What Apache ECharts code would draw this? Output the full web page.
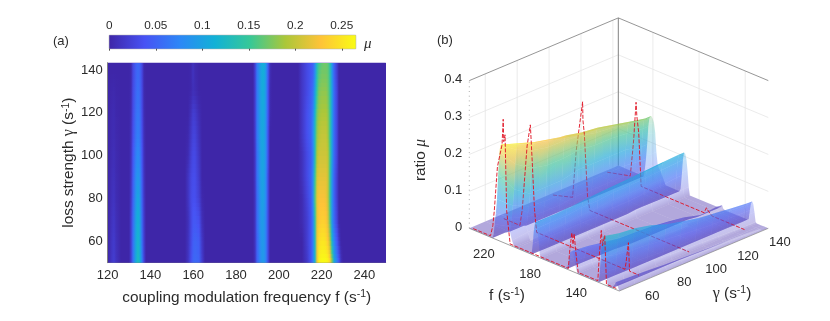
<!DOCTYPE html>
<html>
<head>
<meta charset="UTF-8">
<title>chart</title>
<script src="https://cdn.jsdelivr.net/npm/echarts@6/dist/echarts.min.js"></script>
<style type="text/css">
html, body {
	width: 100%;
	height: 100%;
	padding: 0px;
	margin: 0px;
	background: #fff;
}
</style>
</head>
<body>
	<div id="chart" style="width: 830px; height: 321px;"></div>

	<script type="text/javascript">
        // f columns of the measured map (dense only where the peaks are)
        var fCols = [120,122,123,124,126, 130,131,132,133,134,135,136,137,138, 156,157.5,159,160,161,162.5,164,165.5, 188,189,190,191,192,193,194,195,196,197, 209,211,213,215,216,217,218,219,220,221,222,223,224,225,226,227,228,229,230, 250];
        var gammaRows = [50,60,70,80,90,100,110,120,130,140,143.4];

        // ratio mu along f, one list per gamma
        var mu50 = [0,.016,.02,.012,0, 0,.02,.06,.11,.13,.115,.07,.025,0, 0,.012,.035,.05,.055,.05,.02,0, 0,.01,.05,.075,.09,.09,.07,.03,0,0, 0,0,.015,.04,.07,.12,.22,.26,.265,.265,.265,.26,.24,.18,.11,.07,.04,.01,0, 0];
        var mu60 = [0,.014,.018,.01,0, 0,.02,.06,.105,.12,.105,.06,.02,0, 0,.01,.03,.045,.05,.045,.015,0, 0,.012,.05,.08,.092,.09,.07,.03,0,0, 0,0,.02,.04,.07,.13,.22,.245,.25,.25,.245,.23,.19,.12,.075,.04,.015,0,0, 0];
        var mu70 = [0,.012,.015,.008,0, 0,.02,.055,.1,.115,.1,.055,.018,0, 0,.008,.028,.04,.042,.035,.008,0, 0,.012,.055,.085,.095,.09,.07,.03,0,0, 0,.005,.02,.04,.07,.14,.215,.23,.235,.235,.23,.21,.16,.09,.055,.025,0,0,0, 0];
        var mu80 = [0,.01,.012,.006,0, 0,.015,.05,.09,.105,.09,.05,.015,0, 0,.012,.03,.035,.035,.022,.003,0, 0,.012,.055,.085,.098,.095,.075,.03,0,0, 0,.005,.025,.045,.08,.16,.215,.225,.225,.225,.22,.2,.15,.09,.05,.02,0,0,0, 0];
        var mu90 = [0,.008,.01,.005,0, 0,.012,.045,.08,.09,.08,.045,.012,0, 0,.012,.028,.033,.033,.018,0,0, 0,.015,.06,.09,.1,.098,.075,.03,0,0, 0,.01,.03,.05,.08,.15,.205,.215,.215,.215,.215,.2,.15,.09,.05,.02,0,0,0, 0];
        var mu100 = [0,.006,.008,.004,0, 0,.01,.04,.07,.08,.07,.04,.01,0, 0,.005,.022,.03,.03,.014,0,0, 0,.015,.06,.09,.102,.1,.08,.035,0,0, 0,.01,.03,.045,.07,.13,.19,.205,.205,.205,.205,.195,.155,.1,.055,.025,0,0,0, 0];
        var mu110 = [0,.005,.006,.003,0, 0,.008,.035,.062,.07,.062,.035,.008,0, 0,.002,.016,.025,.025,.01,0,0, 0,.018,.065,.095,.105,.102,.08,.035,0,0, 0,.015,.035,.05,.08,.13,.18,.195,.2,.2,.2,.185,.15,.1,.055,.025,0,0,0, 0];
        var mu120 = [0,.004,.005,.002,0, 0,.006,.032,.058,.065,.058,.032,.006,0, 0,0,.01,.02,.018,.006,0,0, 0,.02,.065,.095,.105,.105,.082,.04,.005,0, 0,.015,.035,.05,.07,.12,.17,.185,.19,.19,.19,.18,.15,.1,.055,.025,0,0,0, 0];
        var mu130 = [0,.002,.003,.001,0, 0,.004,.03,.052,.06,.052,.03,.004,0, 0,0,.002,.008,.006,0,0,0, 0,.02,.065,.095,.108,.108,.085,.04,.005,0, 0,.015,.03,.045,.06,.1,.15,.175,.18,.18,.18,.17,.145,.1,.055,.025,0,0,0, 0];
        var mu140 = [0,0,0,0,0, 0,.003,.028,.048,.055,.048,.028,.003,0, 0,0,.002,.012,.004,0,0,0, 0,.022,.065,.095,.108,.11,.088,.045,.008,0, 0,.015,.03,.04,.05,.08,.135,.16,.17,.17,.17,.165,.14,.09,.05,.02,0,0,0, 0];
        var mu143 = [0,0,0,0,0, 0,.003,.028,.048,.054,.048,.028,.003,0, 0,0,.002,.01,.004,0,0,0, 0,.022,.065,.095,.108,.11,.09,.045,.008,0, 0,.015,.03,.04,.05,.08,.13,.155,.165,.17,.17,.165,.14,.09,.05,.02,0,0,0, 0];
        var muRows = [mu50,mu60,mu70,mu80,mu90,mu100,mu110,mu120,mu130,mu140,mu143];

        // red dashed cuts of panel (b), each at one gamma
        var cutGammas = [51,68,101,135];
        var cut51F = [248,233,231,229.7,227,223,222,221.5,220.4,219,216,165.5,164.5,162.5,161.5,160.5,159,157,140,138.5,137,136,134,132.5,124];
        var cut51Mu = [0,0,.03,.073,.195,.26,.33,.27,.29,.087,0,0,.045,.1,.07,.1,.05,0,0,.08,.14,.1,.13,0,0];
        var cut68F = [245,231,229,224.8,222,221,218.4,216.5,140,139,137,136,128];
        var cut68Mu = [0,0,.045,.223,.284,.227,.06,0,0,.02,.076,0,0];
        var cut101F = [248,231,227.8,222.3,222,220.8,218,216,130];
        var cut101Mu = [0,.016,.148,.286,.236,.2,.034,0,0];
        var cut135F = [248,228,225.3,223,222.3,220.7,218.6,164,162,160,157,129];
        var cut135Mu = [0,.016,.108,.222,.185,.143,0,0,.016,.008,0,0];
        var cutFs = [cut51F,cut68F,cut101F,cut135F];
        var cutMus = [cut51Mu,cut68Mu,cut101Mu,cut135Mu];

        // tick labels
        var heatFTicks = [120,140,160,180,200,220,240];
        var heatGammaTicks = [60,80,100,120,140];
        var boxFTicks = [140,180,220];
        var boxGammaTicks = [60,80,100,120,140];
        var boxMuTicks = [0,0.1,0.2,0.3,0.4];
        var parula = ['#3e26a8','#4752f4','#2d87f7','#12b1d6','#37c897','#abc739','#fec338','#f9fb15'];

        var fontName = 'Liberation Sans';
        var textColor = '#2b2b2b';
        var muMax = 0.265;
        var fMin = 120, fMax = 250, gMin = 50, gMax = 143.4, boxMuMax = 0.4;

        function muColor(v) {
            return echarts.color.lerp(Math.min(v / muMax, 1), parula);
        }

        // panel (a): one data item per cell of the map, shaded across the cell
        var heatCells = [];
        for (var i = 0; i < gammaRows.length - 1; i++) {
            for (var j = 0; j < fCols.length - 1; j++) heatCells.push([i, j]);
        }
        function renderHeatCell(params, api) {
            var i = api.value(0), j = api.value(1), kids = [], n = 5;
            for (var s = 0; s < n; s++) {
                var t = (s + 0.5) / n;
                var g0 = gammaRows[i] + (gammaRows[i + 1] - gammaRows[i]) * s / n;
                var g1 = gammaRows[i] + (gammaRows[i + 1] - gammaRows[i]) * (s + 1) / n;
                var p0 = api.coord([fCols[j], g0]), p1 = api.coord([fCols[j + 1], g1]);
                var a = muRows[i][j] * (1 - t) + muRows[i + 1][j] * t;
                var b = muRows[i][j + 1] * (1 - t) + muRows[i + 1][j + 1] * t;
                var x0 = Math.round(p0[0]), x1 = Math.round(p1[0]), y0 = Math.round(p1[1]), y1 = Math.round(p0[1]);
                if (x1 <= x0 || y1 <= y0) continue;
                kids.push({
                    type: 'rect',
                    shape: { x: x0, y: y0, width: x1 - x0, height: y1 - y0 },
                    style: { fill: new echarts.graphic.LinearGradient(0, 0, 1, 0, [
                        { offset: 0, color: muColor(a) }, { offset: 1, color: muColor(b) }
                    ]) }
                });
            }
            return { type: 'group', children: kids };
        }

        // panel (b): parallel projection of the box onto its own hidden axes
        var boxFloorRun = 150, boxFloorRunR = 149, boxFloorRise = 62.7, boxHeight = 147.7;
        function project(f, g, mu) {
            var u = (f - fMin) / (fMax - fMin), v = (g - gMin) / (gMax - gMin);
            return [boxFloorRun * (1 - u) + boxFloorRunR * v, boxFloorRise * (u + v) + boxHeight * mu / boxMuMax];
        }
        // the far slope of a ridge keeps its colour, the near slope is a pale veil in front of it
        function farShade(v) {
            if (v === 0) return echarts.color.modifyAlpha(parula[0], 0.4);
            return echarts.color.modifyAlpha(muColor(v), 0.4 + Math.min(0.16, v * 2));
        }
        function nearShade(v) {
            if (v === 0) return echarts.color.modifyAlpha(parula[0], 0.4);
            var c = echarts.color.lerp(0.2, [muColor(v), '#a4a6f4']);
            return echarts.color.modifyAlpha(c, 0.33);
        }

        // painted from the far corner to the near one
        var boxItems = [];
        boxItems.push({ kind: 'walls' });
        for (var r = gammaRows.length - 2; r >= 0; r--) {
            for (var c = fCols.length - 2; c >= 0; c--) boxItems.push({ kind: 'quad', r: r, c: c });
            for (var k = cutGammas.length - 1; k >= 0; k--) {
                if (cutGammas[k] >= gammaRows[r] && cutGammas[k] < gammaRows[r + 1]) boxItems.push({ kind: 'cut', k: k });
            }
        }
        boxItems.push({ kind: 'edges' });
        boxItems.push({ kind: 'labels' });

        function segment(a, b, color, width, dash) {
            return {
                type: 'line',
                shape: { x1: a[0], y1: a[1], x2: b[0], y2: b[1] },
                style: { stroke: color, lineWidth: width, lineDash: dash || null }
            };
        }
        function labelAt(p, text, dx, dy, align) {
            return {
                type: 'text',
                x: p[0] + dx, y: p[1] + dy,
                style: { text: text, fill: textColor, fontFamily: fontName, fontSize: 13, align: align || 'center', verticalAlign: 'middle' }
            };
        }

        function renderBoxItem(params, api) {
            var it = boxItems[params.dataIndex], kids = [];
            function pt(f, g, m) {
                return api.coord(project(f, g, m));
            }
            if (it.kind === 'quad') {
                var g0 = gammaRows[it.r], g1 = gammaRows[it.r + 1], f0 = fCols[it.c], f1 = fCols[it.c + 1];
                var a0 = muRows[it.r][it.c], a1 = muRows[it.r + 1][it.c], b0 = muRows[it.r][it.c + 1], b1 = muRows[it.r + 1][it.c + 1];
                var pa0 = pt(f0, g0, a0), pa1 = pt(f0, g1, a1), pb0 = pt(f1, g0, b0), pb1 = pt(f1, g1, b1);
                var ca = (a0 + a1) / 2, cb = (b0 + b1) / 2;
                var shade = cb > ca ? nearShade : farShade;
                var fill = shade(ca);
                var mx = (pa0[0] + pa1[0]) / 2, my = (pa0[1] + pa1[1]) / 2;
                var ex = pa1[0] - pa0[0], ey = pa1[1] - pa0[1], len = Math.sqrt(ex * ex + ey * ey) || 1;
                var nx = -ey / len, ny = ex / len;
                var dist = ((pb0[0] + pb1[0]) / 2 - mx) * nx + ((pb0[1] + pb1[1]) / 2 - my) * ny;
                if (ca !== cb && Math.abs(dist) > 0.01) {
                    fill = {
                        type: 'linear', global: true,
                        x: mx, y: my, x2: mx + nx * dist, y2: my + ny * dist,
                        colorStops: [{ offset: 0, color: shade(ca) }, { offset: 1, color: shade(cb) }]
                    };
                }
                return { type: 'polygon', shape: { points: [pa0, pb0, pb1, pa1] }, style: { fill: fill } };
            }
            if (it.kind === 'cut') {
                var pts = [], fs = cutFs[it.k], ms = cutMus[it.k];
                for (var q = 0; q < fs.length; q++) pts.push(pt(fs[q], cutGammas[it.k], ms[q]));
                return {
                    type: 'polyline',
                    shape: { points: pts },
                    style: { stroke: '#e01020', lineWidth: 1, lineDash: [4, 1.6], fill: null, opacity: 0.9 }
                };
            }
            if (it.kind === 'walls') {
                var gridColor = '#e6e6e6', edgeColor = '#8a8a8a';
                boxMuTicks.forEach(function (m) {
                    if (m === 0 || m === boxMuMax) return;
                    kids.push(segment(pt(fMax, gMin, m), pt(fMax, gMax, m), gridColor, 0.8));
                    kids.push(segment(pt(fMax, gMax, m), pt(fMin, gMax, m), gridColor, 0.8));
                });
                boxGammaTicks.forEach(function (g) {
                    kids.push(segment(pt(fMax, g, 0), pt(fMax, g, boxMuMax), gridColor, 0.8));
                });
                boxFTicks.forEach(function (f) {
                    kids.push(segment(pt(f, gMax, 0), pt(f, gMax, boxMuMax), gridColor, 0.8));
                });
                kids.push(segment(pt(fMax, gMin, boxMuMax), pt(fMax, gMax, boxMuMax), edgeColor, 0.9));
                kids.push(segment(pt(fMax, gMax, boxMuMax), pt(fMin, gMax, boxMuMax), edgeColor, 0.9));
                kids.push(segment(pt(fMax, gMax, 0), pt(fMax, gMax, boxMuMax), '#808080', 1));
                kids.push(segment(pt(fMax, gMin, 0), pt(fMax, gMin, boxMuMax), '#9a9a9a', 0.8, [1, 3.7]));
            }
            if (it.kind === 'edges') {
                kids.push(segment(pt(fMax, gMin, 0), pt(fMin, gMin, 0), '#777', 0.7));
                kids.push(segment(pt(fMin, gMin, 0), pt(fMin, gMax, 0), '#888', 0.7));
            }
            if (it.kind === 'labels') {
                boxFTicks.forEach(function (f) {
                    kids.push(labelAt(pt(f, gMin, 0), String(f), -20, 12));
                });
                boxGammaTicks.forEach(function (g) {
                    kids.push(labelAt(pt(fMin, g, 0), String(g), 17, 12));
                });
                boxMuTicks.forEach(function (m) {
                    kids.push(labelAt(pt(fMax, gMin, m), String(m), -7, -1, 'right'));
                });
            }
            return { type: 'group', children: kids };
        }

        var supRich = {
            sup: { fontFamily: fontName, fontSize: 10.5, padding: [0, 0, 7, 0], color: textColor },
            gam: { fontFamily: 'Liberation Serif', fontSize: 16, color: textColor },
            muSym: { fontFamily: 'Liberation Serif', fontStyle: 'italic', fontSize: 16, color: textColor }
        };

        var option = {
            animation: false,
            backgroundColor: '#fff',
            textStyle: { fontFamily: fontName, color: textColor },
            grid: [
                { left: 107.7, top: 62.7, width: 278, height: 200, show: true, backgroundColor: parula[0], borderWidth: 0 },
                { left: 109.3, top: 35.3, width: 246.4, height: 13.4, show: true, borderColor: '#a0a0a0', borderWidth: 1 },
                { left: 469.3, top: 17.3, width: 299, height: 273.7 }
            ],
            xAxis: [
                {
                    gridIndex: 0, type: 'value', min: fMin, max: fMax, splitLine: { show: false },
                    axisLine: { show: true, lineStyle: { color: '#808080' } }, axisTick: { show: false },
                    axisLabel: { customValues: heatFTicks, color: textColor, fontSize: 13, fontFamily: fontName, margin: 6 },
                    name: 'coupling modulation frequency f (s{sup|-1})',
                    nameLocation: 'middle', nameGap: 26,
                    nameTextStyle: { color: textColor, fontSize: 15.4, fontFamily: fontName, rich: supRich }
                },
                {
                    gridIndex: 1, type: 'value', position: 'top', min: 0, max: muMax, interval: 0.05,
                    splitLine: { show: false }, axisLine: { show: false },
                    axisTick: { inside: true, length: 2, lineStyle: { color: '#555' } },
                    axisLabel: { color: textColor, fontSize: 11.8, fontFamily: fontName, margin: 4, showMaxLabel: false },
                    z: 5
                },
                { gridIndex: 2, type: 'value', min: 0, max: 299, show: false }
            ],
            yAxis: [
                {
                    gridIndex: 0, type: 'value', min: gMin, max: gMax, splitLine: { show: false },
                    axisLine: { show: true, lineStyle: { color: '#808080' } }, axisTick: { show: false },
                    axisLabel: { customValues: heatGammaTicks, color: textColor, fontSize: 13, fontFamily: fontName, margin: 5 },
                    name: 'loss strength {gam|\u03b3} (s{sup|-1})',
                    nameLocation: 'middle', nameGap: 28,
                    nameTextStyle: { color: textColor, fontSize: 15.4, fontFamily: fontName, rich: supRich }
                },
                { gridIndex: 1, type: 'value', min: 0, max: 1, show: false },
                { gridIndex: 2, type: 'value', min: 0, max: 273.7, show: false }
            ],
            series: [
                { type: 'custom', xAxisIndex: 0, yAxisIndex: 0, data: heatCells, renderItem: renderHeatCell, silent: true, clip: true },
                {
                    type: 'custom', xAxisIndex: 1, yAxisIndex: 1, data: [[0, muMax]], silent: true, z: 1,
                    renderItem: function (params, api) {
                        var a = api.coord([api.value(0), 1]), b = api.coord([api.value(1), 0]);
                        var stops = parula.map(function (col, n) { return { offset: n / (parula.length - 1), color: col }; });
                        return {
                            type: 'rect',
                            shape: { x: a[0], y: a[1], width: b[0] - a[0], height: b[1] - a[1] },
                            style: { fill: new echarts.graphic.LinearGradient(0, 0, 1, 0, stops) }
                        };
                    }
                },
                {
                    type: 'custom', xAxisIndex: 2, yAxisIndex: 2, silent: true, progressive: 0, clip: false,
                    data: boxItems.map(function (it, n) { return [n]; }),
                    renderItem: renderBoxItem
                }
            ],
            graphic: [
                { type: 'text', x: 53, y: 35, style: { text: '(a)', fontFamily: fontName, fontSize: 13, fill: textColor } },
                { type: 'text', x: 437, y: 34, style: { text: '(b)', fontFamily: fontName, fontSize: 13, fill: textColor } },
                { type: 'text', x: 364, y: 37, style: { text: '\u03bc', fontFamily: 'Liberation Serif', fontStyle: 'italic', fontSize: 15, fill: textColor } },
                { type: 'text', x: 421, y: 160, rotation: Math.PI / 2, style: { text: 'ratio {muSym|\u03bc}', align: 'center', verticalAlign: 'middle', fontFamily: fontName, fontSize: 15.4, fill: textColor, rich: supRich } },
                { type: 'text', x: 507, y: 296, style: { text: 'f (s{sup|-1})', align: 'center', verticalAlign: 'middle', fontFamily: fontName, fontSize: 15.4, fill: textColor, rich: supRich } },
                { type: 'text', x: 732, y: 294, style: { text: '{gam|\u03b3} (s{sup|-1})', align: 'center', verticalAlign: 'middle', fontFamily: fontName, fontSize: 15.4, fill: textColor, rich: supRich } }
            ]
        };

        var myChart = echarts.init(document.getElementById('chart'), null, { renderer: 'canvas' });
        myChart.setOption(option);
	</script>
</body>
</html>
